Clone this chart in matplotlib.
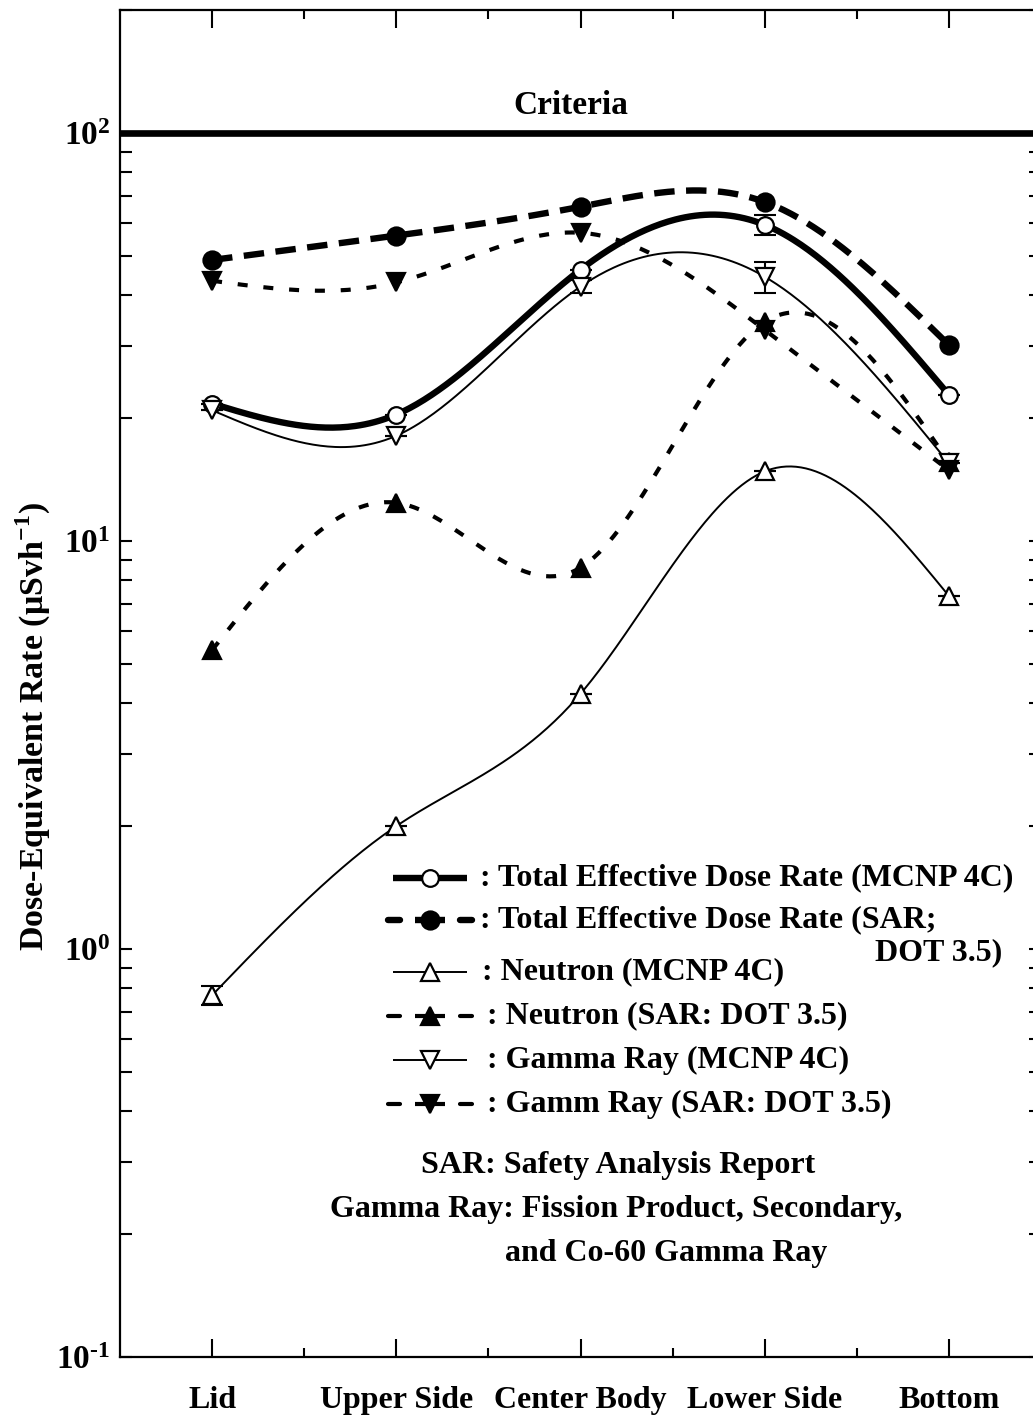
import numpy as np
import matplotlib
matplotlib.use("Agg")
import matplotlib.pyplot as plt
from matplotlib.lines import Line2D
from matplotlib.ticker import FixedLocator, LogLocator, NullFormatter

plt.rcParams['font.family'] = ['Liberation Serif', 'DejaVu Serif']
plt.rcParams['font.weight'] = 'bold'
plt.rcParams['mathtext.fontset'] = 'custom'
plt.rcParams['mathtext.rm'] = 'Liberation Serif:bold'
plt.rcParams['mathtext.bf'] = 'Liberation Serif:bold'

# data
positions = ['Lid', 'Upper Side', 'Center Body', 'Lower Side', 'Bottom']
total_mcnp = [21.7, 20.4, 46.2, 59.5, 22.8]
total_mcnp_err = [0.0, 0.0, 0.0, 3.4, 0.0]
total_sar = [48.8, 56.0, 65.9, 67.7, 30.2]
neutron_mcnp = [0.77, 2.0, 4.22, 14.8, 7.33]
neutron_mcnp_err = [0.04, 0.0, 0.0, 0.0, 0.0]
neutron_sar = [5.4, 12.4, 8.6, 34.4, 15.6]
gamma_mcnp = [20.9, 18.1, 42.0, 44.4, 15.5]
gamma_mcnp_err = [0.0, 0.0, 1.5, 3.8, 0.0]
gamma_sar = [43.4, 43.0, 56.9, 32.9, 14.9]
criteria = 100.0

W, H = 1033, 1417


def fx(px):
    return px / W


def fy(py):
    return 1 - py / H


def natural_spline(x, y, xs):
    n = len(x)
    h = np.diff(x)
    A = np.zeros((n, n))
    r = np.zeros(n)
    A[0, 0] = A[-1, -1] = 1
    for i in range(1, n - 1):
        A[i, i - 1] = h[i - 1]
        A[i, i] = 2 * (h[i - 1] + h[i])
        A[i, i + 1] = h[i]
        r[i] = 3 * ((y[i + 1] - y[i]) / h[i] - (y[i] - y[i - 1]) / h[i - 1])
    c = np.linalg.solve(A, r)
    b = (y[1:] - y[:-1]) / h - h * (2 * c[:-1] + c[1:]) / 3
    d = (c[1:] - c[:-1]) / (3 * h)
    idx = np.clip(np.searchsorted(x, xs) - 1, 0, n - 2)
    dx = xs - x[idx]
    return y[idx] + b[idx] * dx + c[idx] * dx ** 2 + d[idx] * dx ** 3


fig = plt.figure(figsize=(W / 100, H / 100), dpi=100)
ax = fig.add_axes([fx(120), fy(1357), fx(1041) - fx(120), fy(10) - fy(1357)])

x = np.arange(1, len(positions) + 1, dtype=float)
xs = np.linspace(1, 5, 300)

thick = 4.6
thin = 1.4
mid = 3.0
dash_big = (3.2, 1.8)
dash_small = (2.4, 3.8)

series = [
    (total_mcnp, total_mcnp_err, dict(lw=thick, ls='-'),
     dict(marker='o', mfc='white', ms=12)),
    (total_sar, None, dict(lw=thick, ls=(0, dash_big)),
     dict(marker='o', mfc='black', ms=13)),
    (neutron_mcnp, neutron_mcnp_err, dict(lw=thin, ls='-'),
     dict(marker='^', mfc='white', ms=13)),
    (neutron_sar, None, dict(lw=mid, ls=(0, dash_small)),
     dict(marker='^', mfc='black', ms=13)),
    (gamma_mcnp, gamma_mcnp_err, dict(lw=thin, ls='-'),
     dict(marker='v', mfc='white', ms=13)),
    (gamma_sar, None, dict(lw=mid, ls=(0, dash_small)),
     dict(marker='v', mfc='black', ms=13)),
]

for vals, err, lstyle, mstyle in series:
    ys = 10 ** natural_spline(x, np.log10(vals), xs)
    ax.plot(xs, ys, color='black', zorder=2, **lstyle)
    if err is not None:
        ax.errorbar(x, vals, yerr=err, fmt='none', ecolor='black',
                    elinewidth=1.5, capsize=8, capthick=1.5, zorder=3)
    ax.plot(x, vals, ls='none', mec='black', mew=1.6, zorder=4, **mstyle)

ax.axhline(criteria, color='black', lw=4.8, zorder=1)
ax.text(2.95, criteria * 1.07, 'Criteria', ha='center', va='bottom',
        fontsize=24, fontweight='bold')

ax.set_yscale('log')
ax.set_ylim(0.1, 200)
ax.set_xlim(0.5, 5.5)

ax.xaxis.set_major_locator(FixedLocator(x))
ax.xaxis.set_minor_locator(FixedLocator(x[:-1] + 0.5))
ax.set_xticklabels(positions)
ax.yaxis.set_minor_locator(LogLocator(base=10, subs=np.arange(2, 10), numticks=20))
ax.yaxis.set_minor_formatter(NullFormatter())
ax.set_yticks([0.1, 1, 10, 100])
ax.set_yticklabels([r'$\mathbf{10^{\text{-}1}}$', r'$\mathbf{10^{0}}$',
                    r'$\mathbf{10^{1}}$', r'$\mathbf{10^{2}}$'])

ax.tick_params(axis='x', which='major', direction='in', length=13, width=1.5,
               top=True, bottom=True, labelsize=23, pad=21)
ax.tick_params(axis='x', which='minor', direction='in', length=6.5, width=1.5,
               top=True, bottom=True)
ax.tick_params(axis='y', which='both', direction='in', length=8.5, width=1.5,
               left=True, right=True, labelsize=24, pad=7)
for lab in ax.get_xticklabels():
    lab.set_fontweight('bold')
for sp in ax.spines.values():
    sp.set_linewidth(1.6)

fig.text(fx(33), fy(727), r'Dose-Equivalent Rate (μSvh$^{\mathbf{-1}}$)',
         rotation=90, ha='center', va='center', fontsize=24.5, fontweight='bold')

# legend drawn by hand
legend_rows = [
    (878, ': Total Effective Dose Rate (MCNP 4C)', 480, thick, '-', 'o', 'white', 12),
    (920, ': Total Effective Dose Rate (SAR;', 480, thick, (0, dash_big), 'o', 'black', 13),
    (972, ': Neutron (MCNP 4C)', 482, thin, '-', '^', 'white', 13),
    (1016, ': Neutron (SAR: DOT 3.5)', 487, mid, (0, dash_small), '^', 'black', 13),
    (1060, ': Gamma Ray (MCNP 4C)', 487, thin, '-', 'v', 'white', 13),
    (1104, ': Gamm Ray (SAR: DOT 3.5)', 487, mid, (0, dash_small), 'v', 'black', 13),
]
for py, label, tx, lw, ls, mk, mfc, ms in legend_rows:
    if ls == '-':
        x0, x1 = 393, 467
        fig.add_artist(Line2D([fx(x0), fx(x1)], [fy(py), fy(py)], color='black',
                              lw=lw, solid_capstyle='butt'))
    else:
        for a, b in [(388, 400), (460, 472)]:
            fig.add_artist(Line2D([fx(a), fx(b)], [fy(py), fy(py)], color='black',
                                  lw=lw, solid_capstyle='round'))
        fig.add_artist(Line2D([fx(415), fx(445)], [fy(py), fy(py)], color='black',
                              lw=lw, solid_capstyle='butt'))
    fig.add_artist(Line2D([fx(430)], [fy(py)], ls='none', marker=mk, mfc=mfc,
                          mec='black', mew=1.6, ms=ms))
    fig.text(fx(tx), fy(py), label, ha='left', va='center', fontsize=23,
             fontweight='bold')
fig.text(fx(1002), fy(953), 'DOT 3.5)', ha='right', va='center', fontsize=23,
         fontweight='bold')

fig.text(fx(618), fy(1166), 'SAR: Safety Analysis Report', ha='center',
         va='center', fontsize=23, fontweight='bold')
fig.text(fx(330), fy(1209), 'Gamma Ray: Fission Product, Secondary,', ha='left',
         va='center', fontsize=23, fontweight='bold')
fig.text(fx(505), fy(1253), 'and Co-60 Gamma Ray', ha='left', va='center',
         fontsize=23, fontweight='bold')

fig.savefig('out.png', dpi=100)
